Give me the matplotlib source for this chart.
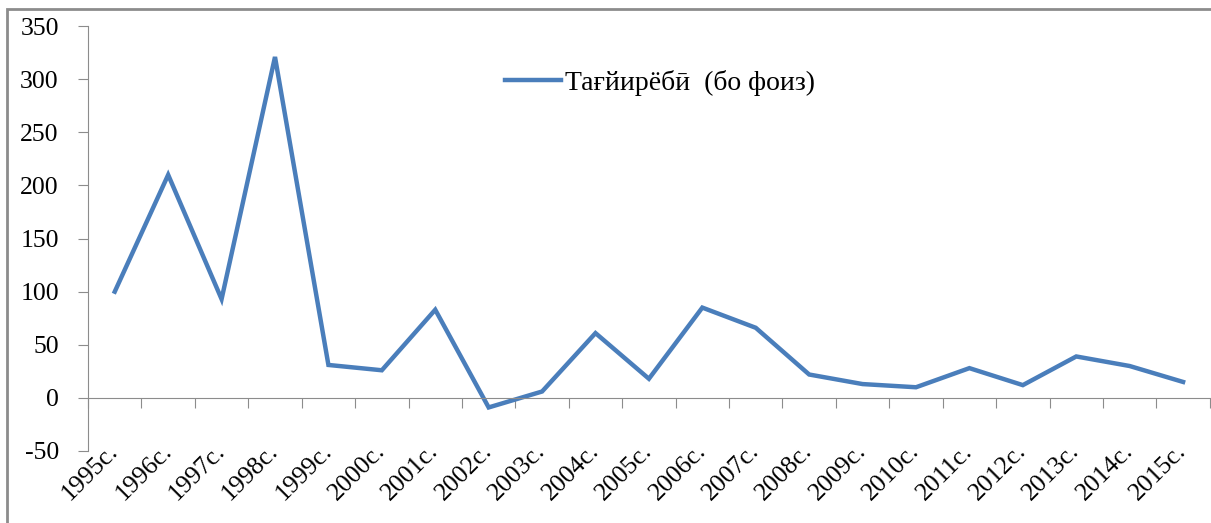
import numpy as np
import matplotlib
matplotlib.use("Agg")
import matplotlib.pyplot as plt
import matplotlib.transforms as mtransforms
from matplotlib.patches import Rectangle

years = ['1995с.', '1996с.', '1997с.', '1998с.', '1999с.', '2000с.', '2001с.',
         '2002с.', '2003с.', '2004с.', '2005с.', '2006с.', '2007с.', '2008с.',
         '2009с.', '2010с.', '2011с.', '2012с.', '2013с.', '2014с.', '2015с.']
change = [100, 210, 93, 321, 31, 26, 83, -9, 6, 61, 18, 85, 66, 22, 13, 10,
          28, 12, 39, 30, 15]
series_name = 'Тағйирёбӣ  (бо фоиз)'

plt.rcParams['font.family'] = ['Liberation Serif', 'DejaVu Serif']
plt.rcParams['axes.unicode_minus'] = False

fig = plt.figure(figsize=(12.11, 5.23), dpi=100)
ax = fig.add_axes([0.0727, 0.1377, 0.9263, 0.8123])

# outer frame of the chart box
fig.patches.append(Rectangle((0.006, -0.05), 1.2, 1.033, transform=fig.transFigure,
                             fill=False, edgecolor='#8c8c8c', lw=2))

x = np.arange(len(years))
ax.plot(x, change, color='#4a7ebb', lw=3.2, solid_joinstyle='miter',
        label=series_name)

ax.set_xlim(-0.5, len(years) - 0.5)
ax.set_ylim(-50, 350)
ax.set_yticks(np.arange(-50, 351, 50))

for s in ['top', 'right']:
    ax.spines[s].set_visible(False)
ax.spines['left'].set_color('#8c8c8c')
ax.spines['bottom'].set_color('#8c8c8c')
ax.spines['bottom'].set_position(('data', 0))

ax.set_xticks(np.arange(-0.5, len(years), 1))
ax.set_xticklabels([])
ax.set_xticks(x, minor=True)
ax.set_xticklabels(years, minor=True, rotation=45, ha='right', va='center',
                   rotation_mode='anchor', fontsize=18.5)
shift = mtransforms.ScaledTranslation(7 / 100, 0, fig.dpi_scale_trans)
for lab in ax.get_xticklabels(minor=True):
    lab.set_transform(lab.get_transform() + shift)
ax.tick_params(axis='x', which='major', length=7, color='#8c8c8c', direction='out')
ax.tick_params(axis='x', which='minor', length=0, pad=36)
ax.tick_params(axis='y', length=7, color='#8c8c8c', labelsize=18.5, pad=14)

ax.legend(loc='center', bbox_to_anchor=(0.51, 0.866), frameon=False,
          fontsize=20, handlelength=2.0, handletextpad=0.15)

fig.savefig('out.png', dpi=100)
